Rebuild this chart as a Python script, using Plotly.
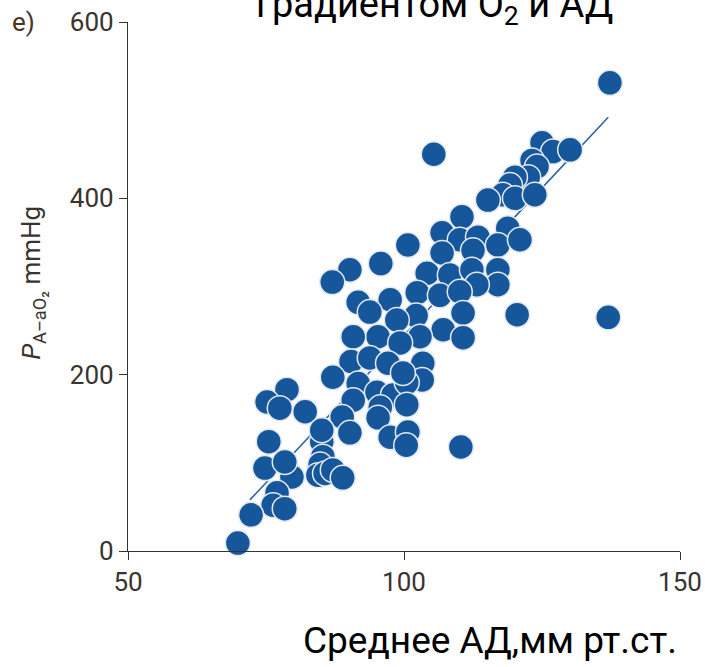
import plotly.graph_objects as go

# Mean arterial pressure (x) vs alveolar-arterial O2 gradient (y)
map_mmhg = [
    137.3, 105.4, 125.0, 127.0, 130.1, 123.2, 124.1, 122.5, 120.1, 119.2,
    117.9, 115.2, 120.1, 123.7, 110.5, 118.8, 106.9, 110.1, 113.4, 117.0,
    121.0, 100.7, 106.9, 112.5, 95.8, 90.2, 87.0, 104.2, 108.3, 112.3,
    117.0, 117.0, 113.2, 102.4, 106.5, 110.1, 97.5, 91.7, 93.8, 102.2,
    98.7, 110.7, 107.1, 110.7, 102.9, 95.3, 90.8, 99.3, 120.5, 137.0,
    110.3, 90.4, 93.8, 97.1, 103.4, 103.3, 87.1, 91.7, 95.1, 98.0,
    100.5, 100.5, 95.7, 95.3, 90.8, 88.8, 82.1, 90.2, 85.1, 85.1,
    97.5, 100.7, 100.4, 85.3, 84.8, 84.4, 85.7, 87.1, 88.9, 78.8,
    75.2, 77.5, 75.5, 74.8, 79.7, 78.4, 77.0, 76.3, 78.4, 72.3,
    69.9, 99.8,
]
gradient_mmhg = [
    531, 450, 463, 453, 455, 443, 436, 424, 424, 415,
    404, 398, 400, 404, 379, 366, 361, 353, 356, 347,
    353, 347, 338, 341, 326, 319, 305, 315, 313, 319,
    319, 302, 302, 293, 290, 294, 285, 282, 271, 267,
    262, 270, 251, 242, 243, 243, 243, 236, 268, 265,
    118, 215, 219, 213, 213, 194, 197, 190, 180, 177,
    191, 166, 163, 151, 171, 152, 158, 134, 124, 137,
    129, 135, 120, 107, 98, 86, 88, 92, 83, 183,
    169, 162, 124, 94, 84, 101, 66, 52, 48, 41,
    9, 202,
]

# Regression line end points
fit_x = [72.1, 137.0]
fit_y = [58, 492]

x_ticks = [50, 100, 150]
y_ticks = [0, 200, 400, 600]

BLUE = "#16579b"
FONT = "Roboto, sans-serif"
TICK_FONT = dict(family=FONT, size=26, color="#3a332e")

fig = go.Figure()
fig.add_trace(go.Scatter(
    x=fit_x, y=fit_y, mode="lines",
    line=dict(color="#2d63a6", width=1.6),
    hoverinfo="skip", showlegend=False, cliponaxis=False,
))
fig.add_trace(go.Scatter(
    x=map_mmhg, y=gradient_mmhg, mode="markers",
    marker=dict(size=25, color=BLUE, line=dict(color="#e4e9f2", width=1.5)),
    showlegend=False, cliponaxis=False,
))

fig.update_layout(
    width=705, height=667,
    margin=dict(l=128, r=25, t=22, b=116, autoexpand=False),
    paper_bgcolor="white", plot_bgcolor="white",
    xaxis=dict(
        range=[50, 150], tickvals=x_ticks, ticktext=[str(v) for v in x_ticks],
        showgrid=False, zeroline=False, showline=True, linecolor="#333333", linewidth=1.2,
        ticks="outside", ticklen=8, tickcolor="#333333", tickwidth=1.2,
        tickfont=TICK_FONT, automargin=False,
    ),
    yaxis=dict(
        range=[0, 600], tickvals=y_ticks, ticktext=[str(v) for v in y_ticks],
        showgrid=False, zeroline=False, showline=True, linecolor="#333333", linewidth=1.2,
        ticks="outside", ticklen=8, tickcolor="#333333", tickwidth=1.2,
        tickfont=TICK_FONT, automargin=False,
    ),
    annotations=[
        dict(text="e)", xref="paper", yref="paper", x=-0.19, y=1.0,
             xanchor="center", yanchor="middle", showarrow=False,
             font=dict(family=FONT, size=26, color="#4a3424")),
        dict(text="<i>P</i><sub>A–aO₂</sub> mmHg", xref="paper", yref="paper",
             x=-0.172, y=0.507, xanchor="center", yanchor="middle", textangle=-90,
             showarrow=False, font=dict(family=FONT, size=26, color="#3a332e")),
        dict(text="Среднее АД,мм рт.ст.", xref="paper", yref="paper",
             x=0.656, y=-0.17, xanchor="center", yanchor="middle", showarrow=False,
             font=dict(family=FONT, size=37, color="#000000")),
        dict(text="градиентом O<sub>2</sub> и АД", xref="paper", yref="paper",
             x=0.556, y=1.03, xanchor="center", yanchor="middle", showarrow=False,
             font=dict(family=FONT, size=38, color="#000000")),
    ],
)

fig.write_html(
    "out.html",
    config={"responsive": False, "displayModeBar": False},
    post_script="document.body.style.margin='0';document.body.style.overflow='hidden';",
)
